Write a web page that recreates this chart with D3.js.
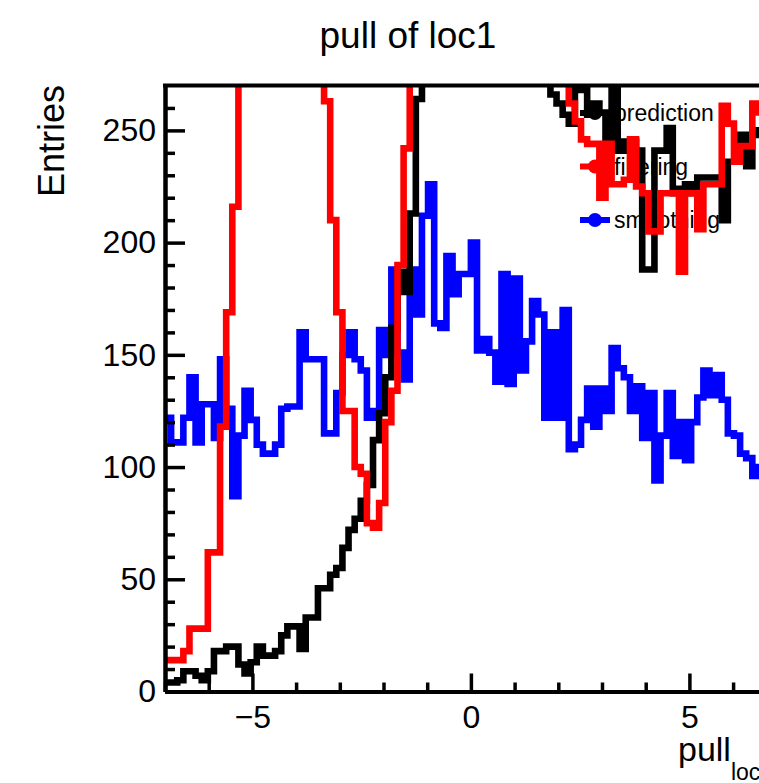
<!DOCTYPE html>
<html>
<head>
<meta charset="utf-8">
<script src="https://cdn.jsdelivr.net/npm/d3@7"></script>
<style>
  body { margin: 0; background: #fff; }
  svg { display: block; font-family: "Liberation Sans", Arial, sans-serif; }
</style>
</head>
<body>
<div id="chart"></div>
<script>
// 100 bins between -7 and 7
const xMin = -7, xMax = 7, nBins = 100;

const prediction = [
  4, 4, 5, 9, 9, 7, 5, 9, 18, 18,
  20, 20, 12, 8, 13, 20, 16, 16, 18, 25,
  29, 29, 19, 33, 33, 46, 46, 52, 55, 64,
  72, 77, 85, 92, 112, 124, 140, 162, 187, 178,
  213, 264, 330, 430, 560, 700, 850, 990, 1110, 1200,
  1250, 1260, 1230, 1160, 1060, 940, 810, 680, 560, 460,
  380, 320, 290, 266, 262, 257, 253, 268, 268, 257,
  262, 258, 241, 280, 241, 245, 245, 241, 188, 188,
  241, 241, 251, 222, 224, 226, 222, 229, 229, 229,
  229, 210, 236, 236, 248, 234, 248, 250, 255, 260
];

const filtering = [
  14, 14, 14, 18, 28, 28, 28, 62, 62, 118,
  169, 216, 310, 420, 560, 700, 810, 880, 900, 870,
  790, 680, 560, 440, 350, 290, 263, 210, 169, 125,
  125, 100, 97, 75, 73, 84, 120, 134, 190, 242,
  300, 380, 480, 600, 740, 880, 1010, 1120, 1190, 1220,
  1200, 1150, 1060, 950, 830, 710, 600, 500, 420, 360,
  320, 300, 290, 285, 280, 275, 262, 254, 246, 244,
  244, 220, 244, 226, 226, 228, 246, 225, 222, 205,
  205, 222, 222, 222, 187, 222, 222, 206, 226, 226,
  226, 261, 253, 236, 243, 243, 262, 258, 265, 270
];

const smoothing = [
  122, 111, 111, 122, 140, 111, 128, 128, 113, 148,
  126, 87, 114, 134, 121, 110, 106, 106, 110, 126,
  127, 127, 160, 148, 148, 148, 115, 115, 133, 150,
  160, 148, 143, 122, 125, 161, 150, 188, 151, 139,
  188, 168, 212, 226, 164, 162, 194, 177, 186, 186,
  200, 152, 157, 151, 138, 186, 137, 184, 143, 156,
  174, 168, 122, 160, 122, 170, 108, 110, 121, 135,
  118, 135, 125, 153, 144, 140, 125, 136, 113, 133,
  94, 114, 133, 105, 120, 103, 120, 131, 143, 132,
  141, 130, 115, 114, 106, 104, 96, 100, 95, 98
];

const xMajorTicks = [-5, 0, 5];
const yMajorTicks = [0, 50, 100, 150, 200, 250];
const legendLabels = ["prediction", "filtering", "smoothing"];
const legendColors = ["#000000", "#ff0000", "#0000ff"];

const margin = { top: 85.5, left: 165 };
const width = 611.8;
const height = 606;

const svg = d3.select("#chart")
  .append("svg")
  .attr("width", 759)
  .attr("height", 783)
  .style("overflow", "hidden");

const g = svg.append("g")
  .attr("transform", `translate(${margin.left},${margin.top})`);

const x = d3.scaleLinear().domain([xMin, xMax]).range([0, width]);
const y = d3.scaleLinear().domain([0, 270]).range([height, 0]);

svg.append("defs").append("clipPath")
  .attr("id", "frame")
  .append("rect")
  .attr("x", 0).attr("y", 0)
  .attr("width", width).attr("height", height);

// title
svg.append("text")
  .attr("x", 408)
  .attr("y", 48)
  .attr("text-anchor", "middle")
  .style("font-size", "37px")
  .text("pull of loc1");

// legend (drawn under the histograms, like in the original)
const legend = g.append("g");
legendLabels.forEach((name, i) => {
  const ly = 113 + i * 53.5 - margin.top;
  const lx = 580 - margin.left;
  legend.append("line")
    .attr("x1", lx).attr("x2", lx + 30)
    .attr("y1", ly).attr("y2", ly)
    .attr("stroke", legendColors[i])
    .attr("stroke-width", 6);
  legend.append("circle")
    .attr("cx", lx + 15).attr("cy", ly)
    .attr("r", 7)
    .attr("fill", legendColors[i]);
  legend.append("text")
    .attr("x", lx + 34)
    .attr("y", ly)
    .attr("dy", "0.35em")
    .style("font-size", "23px")
    .text(name);
});

// step outline for one histogram
const binW = (xMax - xMin) / nBins;
function stepPoints(values) {
  const pts = [];
  values.forEach((v, i) => {
    pts.push([x(xMin + i * binW), y(v)]);
    pts.push([x(xMin + (i + 1) * binW), y(v)]);
  });
  return pts;
}

const line = d3.line();
const hists = g.append("g").attr("clip-path", "url(#frame)");

[[smoothing, "#0000ff"], [prediction, "#000000"], [filtering, "#ff0000"]].forEach(([vals, col]) => {
  hists.append("path")
    .attr("d", line(stepPoints(vals)))
    .attr("fill", "none")
    .attr("stroke", col)
    .attr("stroke-width", 6.6)
    .attr("stroke-linejoin", "miter");
});

// axes
function styleAxis(sel) {
  sel.select(".domain").attr("stroke-width", 4).attr("stroke", "#000");
  sel.selectAll(".tick line").attr("stroke-width", 3.5).attr("stroke", "#000");
  sel.selectAll(".tick text").style("font-size", "32px").attr("fill", "#000");
}

g.append("g")
  .attr("transform", `translate(0,${height})`)
  .call(d3.axisBottom(x).tickValues(d3.range(-7, 8).filter(v => v % 5 !== 0)).tickSize(-9).tickFormat("").tickSizeOuter(0))
  .call(styleAxis);

g.append("g")
  .attr("transform", `translate(0,${height})`)
  .call(d3.axisBottom(x).tickValues(xMajorTicks).tickSize(-18).tickPadding(14).tickSizeOuter(0))
  .call(styleAxis)
  .call(a => a.selectAll(".tick text").attr("dy", "0.71em").attr("y", 14));

g.append("g")
  .call(d3.axisLeft(y).tickValues(d3.range(10, 270, 10).filter(v => v % 50 !== 0)).tickSize(-10).tickFormat("").tickSizeOuter(0))
  .call(styleAxis);

g.append("g")
  .call(d3.axisLeft(y).tickValues(yMajorTicks).tickSize(-20).tickPadding(9).tickSizeOuter(0))
  .call(styleAxis);

// top border of the frame
g.append("line")
  .attr("x1", -2).attr("x2", width)
  .attr("y1", 0).attr("y2", 0)
  .attr("stroke", "#000")
  .attr("stroke-width", 4);

// axis titles
svg.append("text")
  .attr("transform", "translate(64,85) rotate(-90)")
  .attr("text-anchor", "end")
  .style("font-size", "36px")
  .text("Entries");

const xt = svg.append("text")
  .attr("x", 678)
  .attr("y", 761)
  .style("font-size", "34px");
xt.append("tspan").text("pull");
xt.append("tspan").attr("dy", 19).style("font-size", "23px").text("loc1");
</script>
</body>
</html>
